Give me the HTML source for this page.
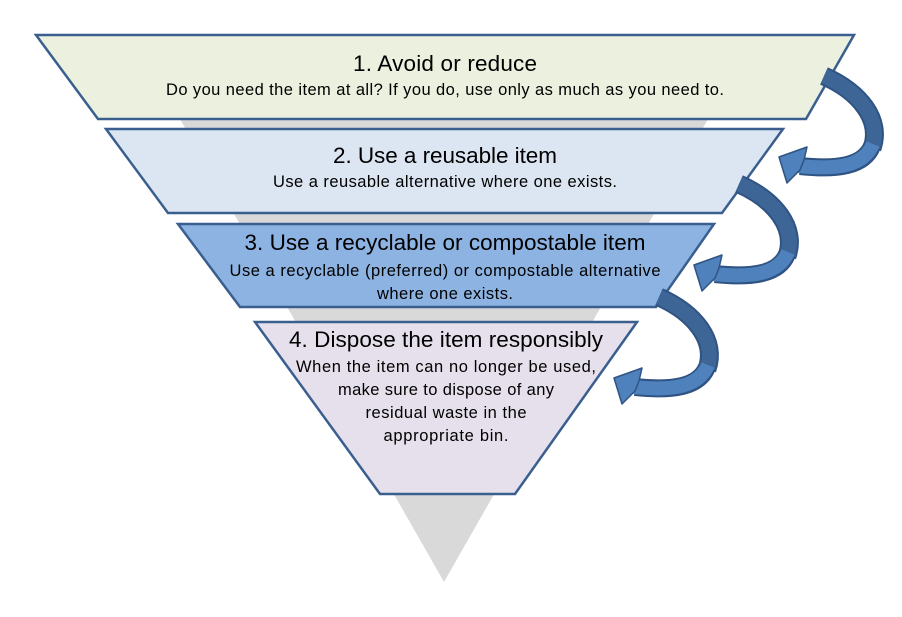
<!DOCTYPE html>
<html><head><meta charset="utf-8"><style>
html,body{margin:0;padding:0;background:#fff;}
svg{display:block;font-family:"Liberation Sans",sans-serif;}
.t{font-size:22.5px;fill:#000;text-anchor:middle}
.s{font-size:16.5px;fill:#000;text-anchor:middle}
</style></head><body>
<svg width="902" height="617" viewBox="0 0 902 617" xmlns="http://www.w3.org/2000/svg">
<polygon points="132,35 756,35 444,582" fill="#d9d9d9"/>
<polygon points="36,35 854,35 806,119 98,119" fill="#ebf1de" stroke="#3a5f8f" stroke-width="2.5"/>
<polygon points="106,129 783,129 722,213 168,213" fill="#dce6f2" stroke="#3a5f8f" stroke-width="2.5"/>
<polygon points="178,224 714,224 656,307 240,307" fill="#8db3e2" stroke="#3a5f8f" stroke-width="2.5"/>
<polygon points="255,322 637,322 515,494 380,494" fill="#e6e0ec" stroke="#3a5f8f" stroke-width="2.5"/>
<g id="arr">
<path d="M824,76 C860,92 882,120 872,148" fill="none" stroke="#2f5382" stroke-width="19"/>
<path d="M824,76 C860,92 882,120 872,148" fill="none" stroke="#3d6596" stroke-width="15"/>
<path d="M872,146 C864,166 838,170 800,166" fill="none" stroke="#2f5382" stroke-width="18"/>
<path d="M873,144 C864,166 838,170 799,166" fill="none" stroke="#4f81bd" stroke-width="14"/>
<polygon points="779,157 807,147 804,160 800,170 787,183" fill="#4f81bd" stroke="#2f5382" stroke-width="1.5" stroke-linejoin="round"/>
</g>
<use href="#arr" transform="translate(-85,108)"/>
<use href="#arr" transform="translate(-165,221)"/>
<text class="t" x="445" y="71" textLength="184">1. Avoid or reduce</text>
<text class="s" x="445" y="95" textLength="558">Do you need the item at all? If you do, use only as much as you need to.</text>
<text class="t" x="445" y="163" textLength="224">2. Use a reusable item</text>
<text class="s" x="445" y="187" textLength="344">Use a reusable alternative where one exists.</text>
<text class="t" x="445" y="250" textLength="401">3. Use a recyclable or compostable item</text>
<text class="s" x="445" y="276" textLength="431">Use a recyclable (preferred) or compostable alternative</text>
<text class="s" x="445" y="299" textLength="136">where one exists.</text>
<text class="t" x="446" y="347" textLength="314">4. Dispose the item responsibly</text>
<text class="s" x="446" y="372" textLength="300">When the item can no longer be used,</text>
<text class="s" x="446" y="395" textLength="216">make sure to dispose of any</text>
<text class="s" x="446" y="418" textLength="161">residual waste in the</text>
<text class="s" x="446" y="441" textLength="125">appropriate bin.</text>
</svg>
</body></html>
